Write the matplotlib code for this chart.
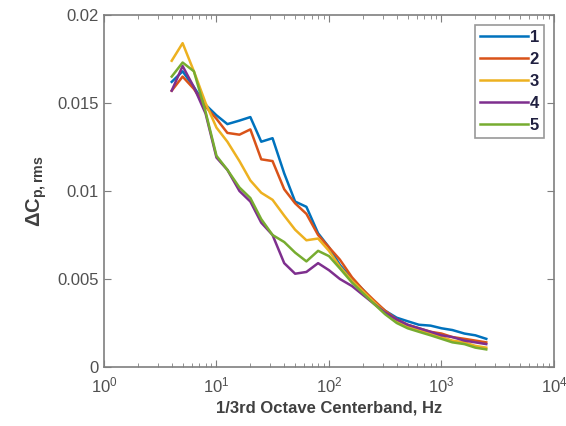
import matplotlib
matplotlib.use("Agg")
import matplotlib.pyplot as plt
from matplotlib.ticker import LogLocator, FixedLocator, NullFormatter

plt.rcParams['font.family'] = ['Liberation Sans', 'DejaVu Sans']
plt.rcParams['mathtext.fontset'] = 'custom'
plt.rcParams['mathtext.rm'] = 'Liberation Sans'
plt.rcParams['mathtext.bf'] = 'Liberation Sans:bold'

freq = [4, 5, 6.3, 8, 10, 12.5, 16, 20, 25, 31.5, 40, 50, 63, 80, 100, 125, 160,
        200, 250, 315, 400, 500, 630, 800, 1000, 1250, 1600, 2000, 2500]

s1 = [0.0162, 0.0168, 0.0159, 0.0149, 0.0143, 0.0138, 0.0140, 0.0142, 0.0128, 0.0130,
      0.0110, 0.0094, 0.0091, 0.0076, 0.0068, 0.0058, 0.0050, 0.0044, 0.0037, 0.0032,
      0.0028, 0.0026, 0.0024, 0.00235, 0.0022, 0.0021, 0.0019, 0.0018, 0.0016]
s2 = [0.0157, 0.0165, 0.0158, 0.0148, 0.0141, 0.0133, 0.0132, 0.0135, 0.0118, 0.0117,
      0.0101, 0.0093, 0.0087, 0.0075, 0.0068, 0.0061, 0.0051, 0.0044, 0.0038, 0.0032,
      0.0027, 0.0024, 0.0022, 0.0020, 0.0019, 0.0017, 0.0016, 0.0015, 0.0014]
s3 = [0.0174, 0.0184, 0.0168, 0.0150, 0.0136, 0.0128, 0.0117, 0.0106, 0.0099, 0.0095,
      0.0086, 0.0078, 0.0072, 0.0073, 0.0066, 0.0057, 0.0049, 0.0043, 0.0037, 0.0031,
      0.0026, 0.0023, 0.0021, 0.0019, 0.0017, 0.0015, 0.0014, 0.0012, 0.0011]
s4 = [0.0157, 0.0171, 0.0159, 0.0144, 0.0119, 0.0112, 0.0100, 0.0094, 0.0082, 0.0075,
      0.0059, 0.0053, 0.0054, 0.0059, 0.0055, 0.0050, 0.0046, 0.0041, 0.0036, 0.0031,
      0.0027, 0.0024, 0.0022, 0.0020, 0.0018, 0.0017, 0.0015, 0.0014, 0.0013]
s5 = [0.0165, 0.0173, 0.0168, 0.0145, 0.0120, 0.0112, 0.0102, 0.0096, 0.0084, 0.0075,
      0.0071, 0.0065, 0.0060, 0.0066, 0.0063, 0.0056, 0.0048, 0.0042, 0.0036, 0.0030,
      0.0025, 0.0022, 0.0020, 0.0018, 0.0016, 0.0014, 0.0013, 0.0011, 0.0010]

series = [s1, s2, s3, s4, s5]
labels = ['1', '2', '3', '4', '5']
colors = ['#0072BD', '#D95319', '#EDB120', '#7E2F8E', '#77AC30']

fig = plt.figure(figsize=(5.66, 4.26), dpi=100)
ax = fig.add_axes([0.1837, 0.1385, 0.7951, 0.8263])

for s, lab, c in zip(series, labels, colors):
    ax.plot(freq, s, color=c, lw=1.8, label=lab)

ax.set_xscale('log')
ax.set_xlim(1, 1e4)
ax.set_ylim(0, 0.02)
ax.xaxis.set_major_locator(FixedLocator([1, 10, 100, 1000, 10000]))
ax.set_xticklabels([r'$\mathregular{10^{0}}$', r'$\mathregular{10^{1}}$',
                    r'$\mathregular{10^{2}}$', r'$\mathregular{10^{3}}$',
                    r'$\mathregular{10^{4}}$'])
ax.xaxis.set_minor_locator(LogLocator(base=10, subs=range(2, 10), numticks=20))
ax.xaxis.set_minor_formatter(NullFormatter())
ax.set_yticks([0, 0.005, 0.01, 0.015, 0.02])
ax.set_yticklabels(['0', '0.005', '0.01', '0.015', '0.02'])

axc = '#7f7f7f'
for sp in ax.spines.values():
    sp.set_color(axc)
    sp.set_linewidth(1.2)
ax.tick_params(which='both', direction='in', top=True, right=True, color=axc,
               labelcolor='#505050', labelsize=12)
ax.tick_params(which='major', length=5)
ax.tick_params(which='minor', length=3)
ax.tick_params(axis='x', pad=6)

ax.set_xlabel('1/3rd Octave Centerband, Hz', fontsize=12, fontweight='bold',
              color='#404040', labelpad=4)
ax.set_ylabel(r'$\mathbf{\Delta C_{p,rms}}$', fontsize=14.5, color='#404040',
              labelpad=6)

leg = ax.legend(loc='upper right', fontsize=12, handlelength=2.9,
                frameon=True, fancybox=False, borderaxespad=0.6,
                handletextpad=0.1, labelspacing=0.42, borderpad=0.3)
leg.get_frame().set_edgecolor(axc)
leg.get_frame().set_linewidth(1.2)
for t in leg.get_texts():
    t.set_color('#202040')
    t.set_fontweight('bold')

fig.savefig('out.png', dpi=100)
